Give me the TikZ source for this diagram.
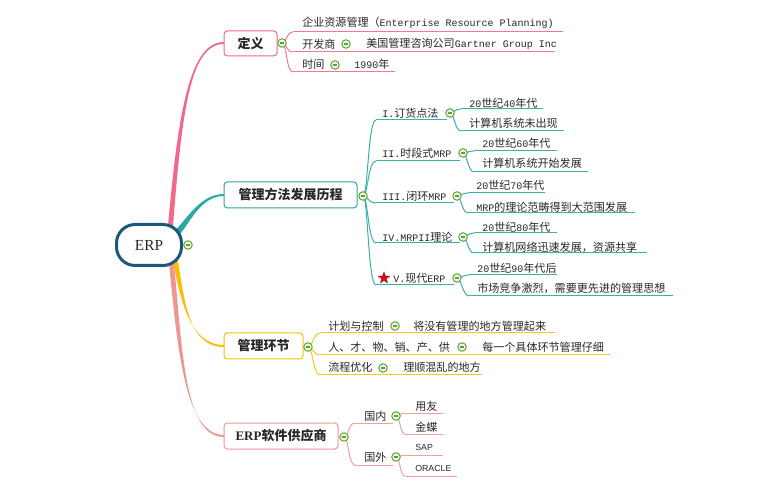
\documentclass[tikz,border=0pt]{standalone}
\usepackage{fontspec}
\setmainfont{Noto Sans CJK SC}
\newfontfamily\monof{Liberation Mono}
\newfontfamily\seriff{Liberation Serif}
\newfontfamily\sansf{Liberation Sans}
\usetikzlibrary{shapes.geometric}
\definecolor{pinkb}{RGB}{240,104,138}
\definecolor{pinkl}{RGB}{242,120,150}
\definecolor{tealb}{RGB}{42,168,163}
\definecolor{teall}{RGB}{60,176,171}
\definecolor{yellb}{RGB}{250,190,10}
\definecolor{yelll}{RGB}{248,196,40}
\definecolor{salb}{RGB}{240,150,145}
\definecolor{sall}{RGB}{242,160,155}
\definecolor{erpblue}{RGB}{28,88,124}
\definecolor{cgreen}{RGB}{92,162,52}
\definecolor{collfill}{RGB}{236,246,228}
\definecolor{txtc}{RGB}{40,40,40}
\definecolor{starred}{RGB}{212,18,28}
\newcommand\mo[1]{{\fontsize{7.5}{10}\selectfont\monof #1}}
\tikzset{
  txt/.style={inner sep=0pt, anchor=west, font=\fontsize{8.3}{10}\selectfont, text=txtc},
  topic/.style={draw, rounded corners=2.5pt, fill=white, line width=0.75pt, inner sep=0pt,
    font=\fontsize{9.75}{12}\selectfont\bfseries, text=txtc},
  coll/.style={circle, draw=cgreen, fill=collfill, line width=0.7pt, minimum size=6.4pt, inner sep=0pt,
    path picture={\draw[cgreen, line width=0.8pt] ([xshift=1.4pt]path picture bounding box.west) -- ([xshift=-1.4pt]path picture bounding box.east);}},
  ul/.style={line width=0.75pt},
  crv/.style={line width=0.75pt},
}
\begin{document}
\begin{tikzpicture}[x=0.75pt,y=-0.75pt]
\useasboundingbox (0,0) rectangle (760,491);
\fill[white] (0,0) rectangle (760,491);

% ---- main tapered branches ----
\fill[salb] (168.5,258) .. controls (177.5,350) and (185,435) .. (224,435) -- (224,437) .. controls (184,437) and (182.5,350) .. (173.5,258) -- cycle;
\fill[yellb] (172.5,258) .. controls (180,300) and (190,345) .. (224,345) -- (224,347) .. controls (188,347) and (184.5,300) .. (177.5,258) -- cycle;
\fill[tealb] (174.3,231.1) .. controls (186.3,220) and (200,194) .. (224,194) -- (224,196) .. controls (200,196) and (189.7,224) .. (177.7,236.9) -- cycle;
\fill[pinkb] (167.5,232) .. controls (178,110) and (190,42) .. (224,42) -- (224,44) .. controls (190,44) and (182,110) .. (172.5,232) -- cycle;

% ---- central node ----
\node[draw=erpblue, line width=2.25pt, rounded corners=14pt, fill=white, minimum width=48.75pt, minimum height=30.75pt, inner sep=0pt,
  font=\fontsize{11.5}{13}\selectfont\seriff, text=txtc] (erp) at (149,245) {ERP};
\coordinate (cE) at (188,245);

% ---- topic boxes ----
\node[topic, draw=pinkb, minimum width=39.75pt, minimum height=18.75pt] (def) at (250.5,43.5) {定义};
\node[topic, draw=tealb, minimum width=99.75pt, minimum height=19.5pt] (meth) at (290.5,195) {管理方法发展历程};
\node[topic, draw=yellb, minimum width=59.25pt, minimum height=19.5pt] (mgmt) at (263.5,346) {管理环节};
\node[topic, draw=salb, minimum width=85.5pt, minimum height=19.5pt] (vend) at (281,436) {{\seriff\bfseries ERP}软件供应商};

% ---- definition children ----
\coordinate (cD) at (282,43);
\coordinate (d1s) at (293,32); \coordinate (d1e) at (563,32);
\coordinate (d2s) at (293,52); \coordinate (d2e) at (555,52);
\coordinate (d3s) at (293,72); \coordinate (d3e) at (395,72);
\foreach \s/\e in {d1s/d1e,d2s/d2e,d3s/d3e}{
  \draw[ul, pinkl] (\s) -- (\e);
  \draw[crv, pinkl] (cD) .. controls +(5,0) and +(-7,0) .. (\s);
}
\node[txt] (d1) at (302,23) {企业资源管理（\mo{Enterprise Resource Planning)}};
\node[txt] (d2) at (302,44) {开发商};
\node[txt] (d2b) at (366,44) {美国管理咨询公司\mo{Gartner Group Inc}};
\node[txt] (d3) at (302,64) {时间};
\node[txt] (d3b) at (354,64) {\mo{1990}年};

% ---- method children ----
\coordinate (cM) at (363,196);
\coordinate (m1s) at (376,120); \coordinate (m1e) at (447,120);
\coordinate (m2s) at (376,161); \coordinate (m2e) at (460,161);
\coordinate (m3s) at (376,203); \coordinate (m3e) at (454,203);
\coordinate (m4s) at (376,243); \coordinate (m4e) at (460,243);
\coordinate (m5s) at (376,285); \coordinate (m5e) at (454,285);
\foreach \s/\e in {m1s/m1e,m2s/m2e,m3s/m3e,m4s/m4e,m5s/m5e}{
  \draw[ul, teall] (\s) -- (\e);
  \draw[crv, teall] (cM) .. controls +(5,0) and +(-8,0) .. (\s);
}
\coordinate (c1) at (450,113);
\coordinate (c2) at (463,153);
\coordinate (c3) at (457,196);
\coordinate (c4) at (463,237);
\coordinate (c5) at (457,278);
\coordinate (m1as) at (461,109); \coordinate (m1ae) at (543,109);
\coordinate (m1bs) at (461,131); \coordinate (m1be) at (564,131);
\coordinate (m2as) at (474,151); \coordinate (m2ae) at (557,151);
\coordinate (m2bs) at (474,172); \coordinate (m2be) at (588,172);
\coordinate (m3as) at (468,193); \coordinate (m3ae) at (545,193);
\coordinate (m3bs) at (468,213); \coordinate (m3be) at (635,213);
\coordinate (m4as) at (474,233); \coordinate (m4ae) at (557,233);
\coordinate (m4bs) at (474,253); \coordinate (m4be) at (647,253);
\coordinate (m5as) at (469,275); \coordinate (m5ae) at (557,275);
\coordinate (m5bs) at (469,296); \coordinate (m5be) at (673,296);
\foreach \c/\s/\e in {c1/m1as/m1ae,c1/m1bs/m1be,c2/m2as/m2ae,c2/m2bs/m2be,c3/m3as/m3ae,c3/m3bs/m3be,c4/m4as/m4ae,c4/m4bs/m4be,c5/m5as/m5ae,c5/m5bs/m5be}{
  \draw[ul, teall] (\s) -- (\e);
  \draw[crv, teall] (\c) .. controls +(4,0) and +(-6,0) .. (\s);
}
\node[txt] (m1) at (382,113) {\mo{I.}订货点法};
\node[txt] (m2) at (382,153) {\mo{II.}时段式\mo{MRP}};
\node[txt] (m3) at (382,196) {\mo{III.}闭环\mo{MRP}};
\node[txt] (m4) at (382,237) {\mo{IV.MRPII}理论};
\node[star, star points=5, star point ratio=2.4, fill=starred, draw=starred!75!black, line width=0.3pt, minimum size=9pt, inner sep=0pt] (star) at (384,278) {};
\node[txt] (m5) at (393,278) {\mo{V.}现代\mo{ERP}};
\node[txt] (m1a) at (469,103) {\mo{20}世纪\mo{40}年代};
\node[txt] (m1b) at (469,123) {计算机系统未出现};
\node[txt] (m2a) at (482,143) {\mo{20}世纪\mo{60}年代};
\node[txt] (m2b) at (482,163) {计算机系统开始发展};
\node[txt] (m3a) at (476,185) {\mo{20}世纪\mo{70}年代};
\node[txt] (m3b) at (476,207) {\mo{MRP}的理论范畴得到大范围发展};
\node[txt] (m4a) at (482,227) {\mo{20}世纪\mo{80}年代};
\node[txt] (m4b) at (482,247) {计算机网络迅速发展，资源共享};
\node[txt] (m5a) at (477,268) {\mo{20}世纪\mo{90}年代后};
\node[txt] (m5b) at (477,288) {市场竞争激烈，需要更先进的管理思想};

% ---- management children ----
\coordinate (cG) at (308,347);
\coordinate (g1s) at (320,333); \coordinate (g1e) at (555,333);
\coordinate (g2s) at (320,355); \coordinate (g2e) at (610,355);
\coordinate (g3s) at (320,375); \coordinate (g3e) at (482,375);
\foreach \s/\e in {g1s/g1e,g2s/g2e,g3s/g3e}{
  \draw[ul, yelll] (\s) -- (\e);
  \draw[crv, yelll] (cG) .. controls +(5,0) and +(-7,0) .. (\s);
}
\node[txt] (g1) at (328,326) {计划与控制};
\node[txt] (g1b) at (413,326) {将没有管理的地方管理起来};
\node[txt] (g2) at (328,347) {人、才、物、销、产、供};
\node[txt] (g2b) at (482,347) {每一个具体环节管理仔细};
\node[txt] (g3) at (328,367) {流程优化};
\node[txt] (g3b) at (403,367) {理顺混乱的地方};

% ---- vendor children ----
\coordinate (cV) at (344,437);
\coordinate (v1s) at (355,423); \coordinate (v1e) at (393,423);
\coordinate (v2s) at (355,465); \coordinate (v2e) at (393,465);
\foreach \s/\e in {v1s/v1e,v2s/v2e}{
  \draw[ul, sall] (\s) -- (\e);
  \draw[crv, sall] (cV) .. controls +(5,0) and +(-7,0) .. (\s);
}
\coordinate (cV1) at (396,416);
\coordinate (cV2) at (396,457);
\coordinate (v1as) at (405,413); \coordinate (v1ae) at (443,413);
\coordinate (v1bs) at (405,434); \coordinate (v1be) at (443,434);
\coordinate (v2as) at (405,455); \coordinate (v2ae) at (443,455);
\coordinate (v2bs) at (405,476); \coordinate (v2be) at (457,476);
\foreach \c/\s/\e in {cV1/v1as/v1ae,cV1/v1bs/v1be,cV2/v2as/v2ae,cV2/v2bs/v2be}{
  \draw[ul, sall] (\s) -- (\e);
  \draw[crv, sall] (\c) .. controls +(4,0) and +(-5,0) .. (\s);
}
\node[txt] (v1) at (364,416) {国内};
\node[txt] (v2) at (364,457) {国外};
\node[txt] (v1a) at (415,406) {用友};
\node[txt] (v1b) at (415,427) {金蝶};
\node[txt, font=\fontsize{6.6}{8}\selectfont\sansf] (v2a) at (415,447) {SAP};
\node[txt, font=\fontsize{6.6}{8}\selectfont\sansf] (v2b) at (415,468) {ORACLE};

% ---- collapse circles ----
\node[coll] (kE) at (cE) {};
\node[coll] (kD) at (cD) {};
\node[coll] (kD2) at (346,44) {};
\node[coll] (kD3) at (335,65) {};
\node[coll] (kM) at (cM) {};
\node[coll] (k1) at (c1) {};
\node[coll] (k2) at (c2) {};
\node[coll] (k3) at (c3) {};
\node[coll] (k4) at (c4) {};
\node[coll] (k5) at (c5) {};
\node[coll] (kG) at (cG) {};
\node[coll] (kG1) at (395,326) {};
\node[coll] (kG2) at (462,347) {};
\node[coll] (kG3) at (383,368) {};
\node[coll] (kV) at (cV) {};
\node[coll] (kV1) at (cV1) {};
\node[coll] (kV2) at (cV2) {};
\end{tikzpicture}
\end{document}
